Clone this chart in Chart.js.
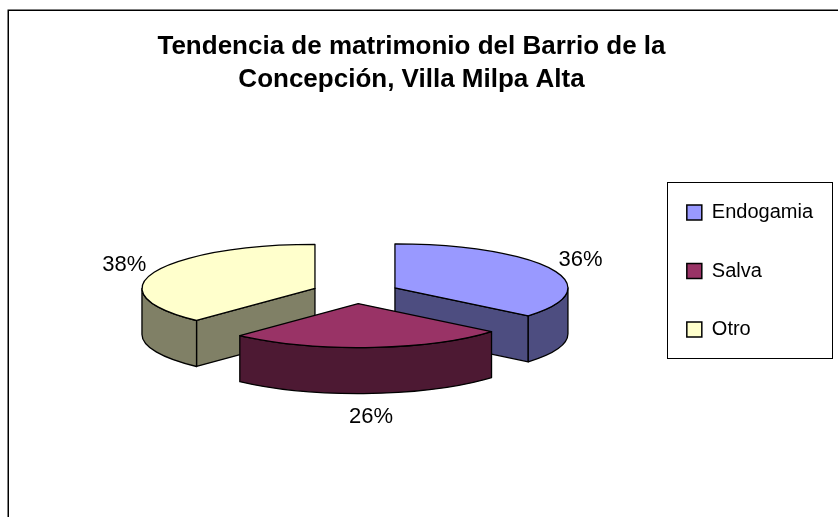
<!DOCTYPE html>
<html><head><meta charset="utf-8">
<script src="https://cdn.jsdelivr.net/npm/chart.js@4.4.0/dist/chart.umd.min.js"></script>
<style>html,body{margin:0;padding:0;background:#fff;} canvas{display:block;}</style>
</head><body>
<canvas id="c" width="838" height="517"></canvas>
<script>
// ---- data ----
const categories = ['Endogamia', 'Salva', 'Otro'];
const percentages = [36, 26, 38];
const topColors = ['#9999FF', '#993366', '#FFFFCC'];
const sideColors = ['#4D4D80', '#4D1933', '#808066'];
const titleLines = ['Tendencia de matrimonio del Barrio de la', 'Concepción, Villa Milpa Alta'];

// ---- 3D view settings ----
const VIEW = {cx: 355.5, cy: 292.5, a: 173, b: 44, depth: 46, explode: 0.252};
const FONT = 'Liberation Sans';

function sliceInfo(el, i) {
  const p = el.getProps(['x', 'y', 'startAngle', 'endAngle', 'outerRadius'], true);
  const mid = (p.startAngle + p.endAngle) / 2;
  return {el, i, p, mid,
    ox: VIEW.cx + VIEW.explode * VIEW.a * Math.cos(mid),
    oy: VIEW.cy + VIEW.explode * VIEW.b * Math.sin(mid)};
}

function drawSides(ctx, it) {
  const {ox, oy} = it;
  const {a, b, depth} = VIEW;
  const s = it.p.startAngle, e = it.p.endAngle;
  ctx.fillStyle = sideColors[it.i];
  const pt = (ang, z) => [ox + a * Math.cos(ang), oy + b * Math.sin(ang) + z];
  const face = (ang) => {
    const [x, y] = pt(ang, 0);
    ctx.beginPath();
    ctx.moveTo(ox, oy); ctx.lineTo(x, y); ctx.lineTo(x, y + depth); ctx.lineTo(ox, oy + depth);
    ctx.closePath(); ctx.fill(); ctx.stroke();
  };
  if (Math.cos(s) < -1e-6) face(s);
  if (Math.cos(e) > 1e-6) face(e);
  for (let k = -1; k <= 1; k++) {
    const lo = Math.max(s, 2 * Math.PI * k), hi = Math.min(e, Math.PI + 2 * Math.PI * k);
    if (hi > lo + 1e-6) {
      ctx.beginPath();
      ctx.ellipse(ox, oy, a, b, 0, lo, hi, false);
      const [x2, y2] = pt(hi, depth);
      ctx.lineTo(x2, y2);
      ctx.ellipse(ox, oy + depth, a, b, 0, hi, lo, true);
      ctx.closePath(); ctx.fill(); ctx.stroke();
    }
  }
}

const frame = {
  id: 'frame',
  afterDraw(chart) {
    const ctx = chart.ctx;
    ctx.save();
    ctx.strokeStyle = '#000'; ctx.lineWidth = 1.5;
    ctx.strokeRect(8.25, 10.25, 900, 600);
    const hb = chart.legend.legendHitBoxes;
    if (hb && hb.length) {
      ctx.lineWidth = 1;
      const top = hb[0].top - 20.5;
      const bottom = hb[hb.length - 1].top + 38.5;
      ctx.strokeRect(Math.round(hb[0].left - 20) + 0.5, Math.round(top) + 0.5, 165, Math.round(bottom - top));
    }
    ctx.restore();
  }
};

const pie3d = {
  id: 'pie3d',
  beforeDatasetDraw(chart, args) {
    const ctx = chart.ctx;
    const items = args.meta.data.map(sliceInfo).sort((u, v) => Math.sin(u.mid) - Math.sin(v.mid));
    ctx.save();
    for (const it of items) {
      ctx.lineWidth = 1.3; ctx.strokeStyle = '#000'; ctx.lineJoin = 'round';
      drawSides(ctx, it);
      ctx.save();
      ctx.translate(it.ox, it.oy);
      ctx.scale(VIEW.a / it.p.outerRadius, VIEW.b / it.p.outerRadius);
      ctx.translate(-it.p.x, -it.p.y);
      it.el.draw(ctx);
      ctx.restore();
      ctx.lineWidth = 1.3; ctx.strokeStyle = '#000';
      ctx.beginPath();
      ctx.moveTo(it.ox, it.oy);
      ctx.ellipse(it.ox, it.oy, VIEW.a, VIEW.b, 0, it.p.startAngle, it.p.endAngle, false);
      ctx.closePath();
      ctx.stroke();
    }
    ctx.restore();
    return false;
  },
  afterDatasetsDraw(chart) {
    const ctx = chart.ctx;
    const meta = chart.getDatasetMeta(0);
    ctx.save();
    ctx.font = '22px "' + FONT + '"';
    ctx.fillStyle = '#000';
    ctx.textAlign = 'center';
    ctx.textBaseline = 'middle';
    meta.data.forEach((el, i) => {
      const it = sliceInfo(el, i);
      const z = Math.sin(it.mid) > 0 ? VIEW.depth : 0;
      const ex = it.ox + VIEW.a * Math.cos(it.mid);
      const ey = it.oy + VIEW.b * Math.sin(it.mid) + z;
      const txt = percentages[i] + '%';
      const w = ctx.measureText(txt).width;
      const x = ex + Math.cos(it.mid) * (w / 2 + 10);
      const y = ey + Math.sin(it.mid) * (9 + 14);
      ctx.fillText(txt, x, y + 1);
    });
    ctx.restore();
  }
};

new Chart(document.getElementById('c'), {
  type: 'pie',
  data: {
    labels: categories,
    datasets: [{data: percentages, backgroundColor: topColors, borderWidth: 0}]
  },
  options: {
    responsive: false,
    animation: false,
    events: [],
    layout: {padding: {right: 15, bottom: 75}},
    plugins: {
      title: {
        display: true, text: titleLines, color: '#000',
        font: {family: FONT, size: 26, weight: 'bold', lineHeight: 1.27},
        padding: {top: 30.5, bottom: 3.5}
      },
      legend: {
        position: 'right', fullSize: false,
        labels: {
          font: {family: FONT, size: 20}, color: '#000',
          boxWidth: 15, boxHeight: 15, padding: 38.5,
          generateLabels(chart) {
            const items = Chart.overrides.pie.plugins.legend.labels.generateLabels(chart);
            return items.map(it => Object.assign(it, {strokeStyle: '#000', lineWidth: 1.5}));
          }
        }
      },
      tooltip: {enabled: false}
    }
  },
  plugins: [frame, pie3d]
});
</script>
</body></html>
